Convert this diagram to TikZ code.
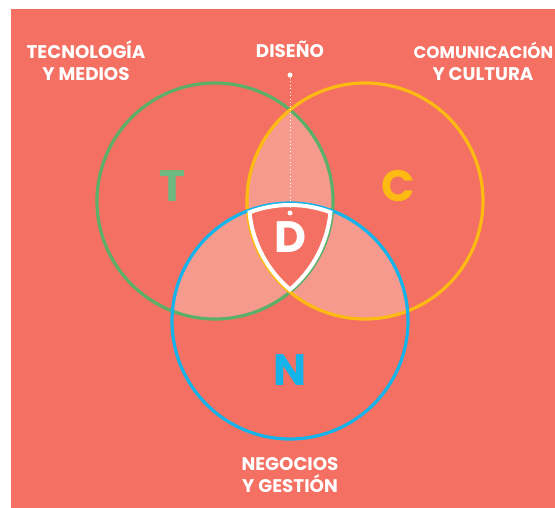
\documentclass[tikz,border=0pt]{standalone}
\usepackage{fontspec}
\setmainfont{Poppins}
\definecolor{coral}{HTML}{F37062}
\definecolor{pinkfill}{HTML}{F59A8D}
\definecolor{tgreen}{HTML}{5CAF69}
\definecolor{tletter}{HTML}{6CBA82}
\definecolor{cyellow}{HTML}{FDBA12}
\definecolor{nblue}{HTML}{14B4EA}
\begin{document}
\begin{tikzpicture}[x=1pt,y=-1pt,
  ring/.style={line width=3.2pt},
  bigletter/.style={font=\fontsize{44}{44}\selectfont\bfseries, inner sep=0pt, anchor=base},
  lbl/.style={font=\fontsize{18.3}{20}\selectfont\bfseries, text=white, inner sep=0pt, anchor=base},
  wdot/.style={circle, fill=white, inner sep=0pt, minimum size=5pt}]
\useasboundingbox (0,0) rectangle (555,508);
\fill[coral] (10.5,9) rectangle (555,507.5);
\def\rr{118}
\coordinate (cT) at (215,201);
\coordinate (cC) at (365,201);
\coordinate (cN) at (290,321);
% pairwise overlaps
\begin{scope}\clip (cT) circle (\rr); \fill[pinkfill] (cC) circle (\rr); \end{scope}
\begin{scope}\clip (cT) circle (\rr); \fill[pinkfill] (cN) circle (\rr); \end{scope}
\begin{scope}\clip (cC) circle (\rr); \fill[pinkfill] (cN) circle (\rr); \end{scope}
% triple
\begin{scope}\clip (cT) circle (\rr); \clip (cC) circle (\rr); \fill[coral] (cN) circle (\rr); \end{scope}
% rings
\draw[ring, tgreen] (cT) circle (\rr);
\draw[ring, cyellow] (cC) circle (\rr);
\draw[ring, nblue] (cN) circle (\rr);
% shield outline
\begin{scope}
  \clip (cT) circle (\rr); \clip (cC) circle (\rr); \clip (cN) circle (\rr);
  \draw[white, line width=8pt] (cT) circle (\rr) (cC) circle (\rr) (cN) circle (\rr);
\end{scope}
% dotted pointer
\node[wdot] (dtop) at (290,75) {};
\node[wdot] (dbot) at (290,213) {};
\draw[white, line width=1pt, dash pattern=on 1pt off 2.5pt] (dtop) -- (dbot);
% letters
\node[bigletter, text=tletter] (T) at (173,201.5) {T};
\node[bigletter, text=cyellow] (C) at (398.5,201.5) {C};
\node[bigletter, text=white] (D) at (290,253) {D};
\node[bigletter, text=nblue] (N) at (290,385) {N};
% labels
\node[lbl] (tec1) at (86,58.5) {TECNOLOGÍA};
\node[lbl] (tec2) at (86,80.5) {Y MEDIOS};
\node[lbl] (dis) at (290,57.5) {DISEÑO};
\node[lbl, font=\fontsize{16.8}{20}\selectfont\bfseries] (com1) at (483.5,58.5) {COMUNICACIÓN};
\node[lbl] (com2) at (483,80.5) {Y CULTURA};
\node[lbl] (neg1) at (290,470.5) {NEGOCIOS};
\node[lbl] (neg2) at (290,492.5) {Y GESTIÓN};
\end{tikzpicture}
\end{document}
